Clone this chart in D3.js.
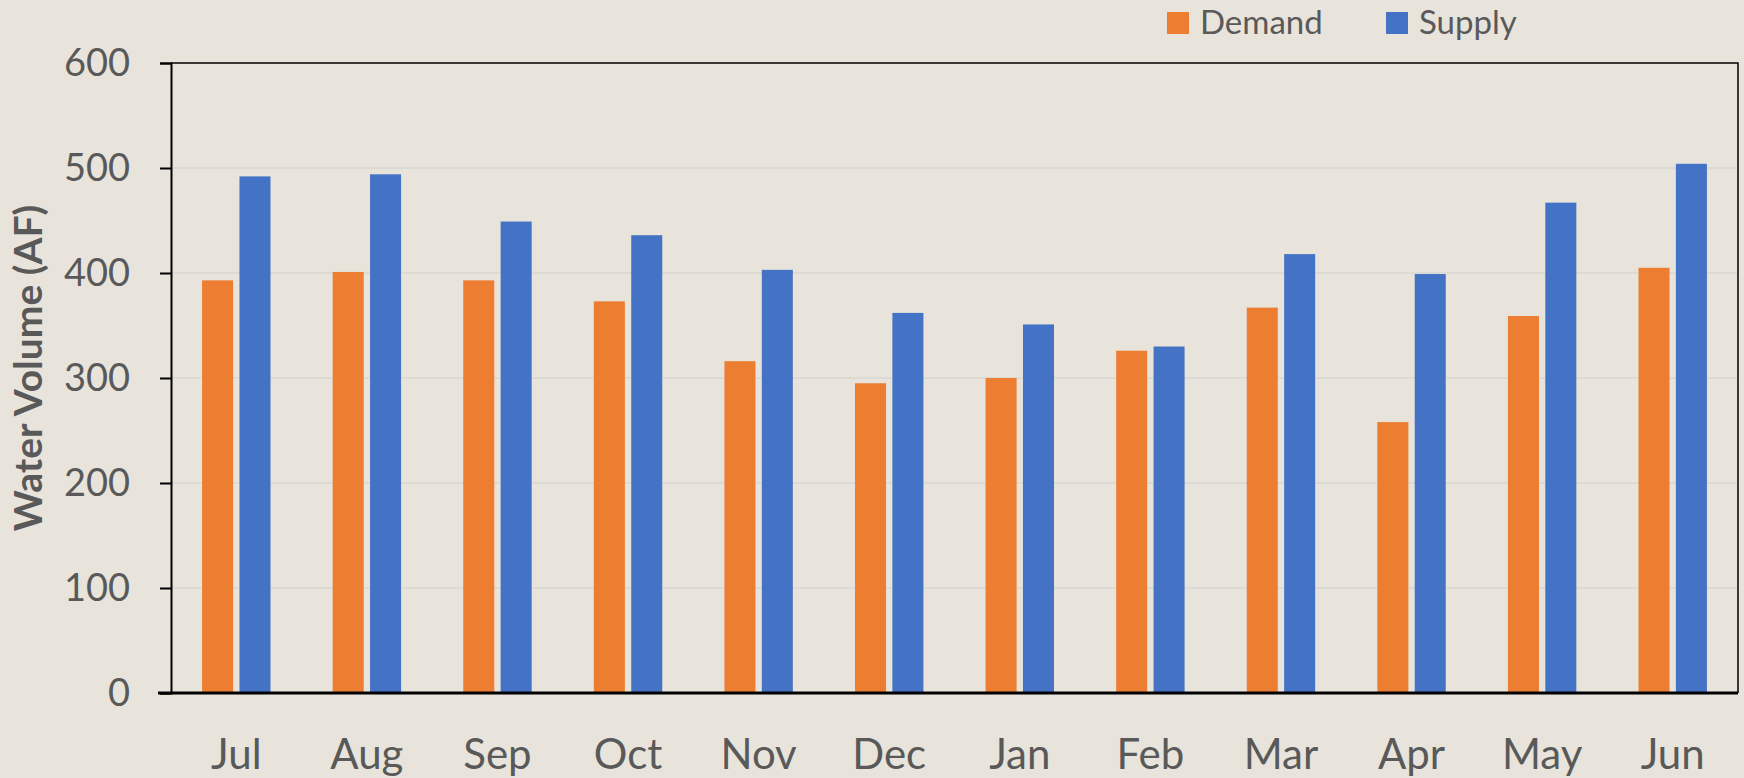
<html>
  <head>
    <meta charset="utf-8" />
    <script src="https://d3js.org/d3.v7.min.js"></script>
    <style>
      body { margin: 0; background: #e8e4dc; }
      text { font-family: Lato, "Open Sans", sans-serif; }
    </style>
  </head>
  <body>
    <div class="container"></div>
  </body>
</html>

<script>
  const months = ["Jul", "Aug", "Sep", "Oct", "Nov", "Dec", "Jan", "Feb", "Mar", "Apr", "May", "Jun"];
  const series = ["Demand", "Supply"];
  const demand = [393, 401, 393, 373, 316, 295, 300, 326, 367, 258, 359, 405];
  const supply = [492, 494, 449, 436, 403, 362, 351, 330, 418, 399, 467, 504];
  const yTicks = [0, 100, 200, 300, 400, 500, 600];

  const colors = { Demand: "#ed7d31", Supply: "#4472c4" };
  const width = 1744;
  const height = 778;
  const margin = { top: 63, right: 6, bottom: 85, left: 171 };

  const svg = d3
    .select(".container")
    .append("svg")
    .attr("width", width)
    .attr("height", height);

  svg.append("rect").attr("width", width).attr("height", height).attr("fill", "#e8e4dc");

  const x = d3
    .scaleBand()
    .domain(months)
    .range([margin.left, width - margin.right])
    .paddingInner(0.476)
    .paddingOuter(0.238);

  const xSub = d3.scaleBand().domain(series).range([0, x.bandwidth()]).paddingInner(0.17);

  const y = d3.scaleLinear().domain([0, 600]).range([height - margin.bottom, margin.top]);

  // gridlines
  svg
    .append("g")
    .selectAll("line")
    .data(yTicks.filter((d) => d > 0 && d < 600))
    .join("line")
    .attr("x1", margin.left)
    .attr("x2", width - margin.right)
    .attr("y1", (d) => y(d))
    .attr("y2", (d) => y(d))
    .attr("stroke", "#d9d7d3")
    .attr("stroke-width", 1.5);

  // bars
  const rows = months.map((m, i) => ({ month: m, Demand: demand[i], Supply: supply[i] }));
  svg
    .append("g")
    .selectAll("g")
    .data(rows)
    .join("g")
    .attr("transform", (d) => `translate(${x(d.month)},0)`)
    .selectAll("rect")
    .data((d) => series.map((s) => ({ key: s, value: d[s] })))
    .join("rect")
    .attr("x", (d) => xSub(d.key))
    .attr("width", xSub.bandwidth())
    .attr("y", (d) => y(d.value))
    .attr("height", (d) => y(0) - y(d.value))
    .attr("fill", (d) => colors[d.key]);

  // frame top/right
  svg
    .append("path")
    .attr("fill", "none")
    .attr("stroke", "#000")
    .attr("stroke-width", 1.5)
    .attr("d", `M${margin.left},${margin.top}H${width - margin.right}V${height - margin.bottom}`);

  // y axis
  const yAxis = svg
    .append("g")
    .attr("transform", `translate(${margin.left},0)`)
    .call(d3.axisLeft(y).tickValues(yTicks).tickSize(11).tickPadding(30))
    .call((g) => g.select(".domain").attr("stroke", "#000").attr("stroke-width", 2));
  yAxis.selectAll(".tick line").attr("stroke", "#000").attr("stroke-width", 2);
  yAxis
    .selectAll(".tick text")
    .attr("fill", "#595959")
    .attr("font-size", 38)
    .attr("font-family", "Lato, sans-serif");

  // x axis
  const xAxis = svg
    .append("g")
    .attr("transform", `translate(0,${y(0)})`)
    .call(d3.axisBottom(x).tickSize(0).tickPadding(46))
    .call((g) => g.select(".domain").attr("d", `M${margin.left - 13},0H${width - margin.right}`).attr("stroke", "#000").attr("stroke-width", 3));
  xAxis
    .selectAll(".tick text")
    .attr("fill", "#595959")
    .attr("font-size", 42)
    .attr("font-family", "Lato, sans-serif");

  // y title
  svg
    .append("text")
    .attr("transform", `translate(42,368) rotate(-90)`)
    .attr("text-anchor", "middle")
    .attr("font-size", 39)
    .attr("font-weight", "bold")
    .attr("fill", "#595959")
    .text("Water Volume (AF)");

  // legend
  const legend = svg
    .append("g")
    .selectAll("g")
    .data(series)
    .join("g")
    .attr("transform", (d, i) => `translate(${1167 + i * 219},0)`);
  legend
    .append("rect")
    .attr("y", 12)
    .attr("width", 22)
    .attr("height", 22)
    .attr("fill", (d) => colors[d]);
  legend
    .append("text")
    .attr("x", 33)
    .attr("y", 34)
    .attr("font-size", 33)
    .attr("fill", "#595959")
    .text((d) => d);
</script>
